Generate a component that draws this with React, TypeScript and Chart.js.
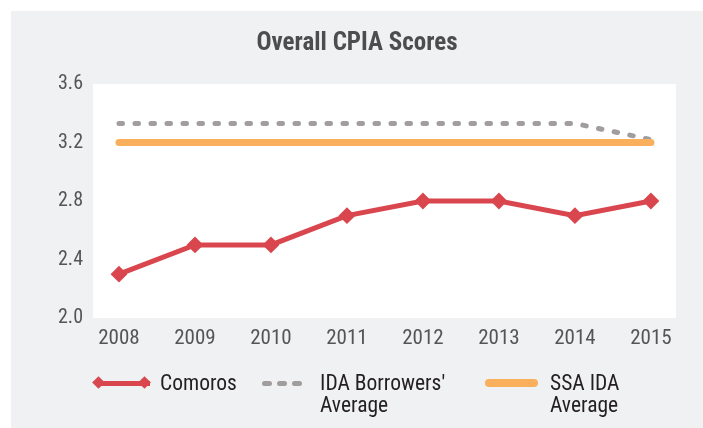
import React, { useEffect, useRef } from "react";
import { Chart, registerables } from "chart.js";

Chart.register(...registerables);

const title = "Overall CPIA Scores";
const years = [2008, 2009, 2010, 2011, 2012, 2013, 2014, 2015];
const comoros = [2.3, 2.5, 2.5, 2.7, 2.8, 2.8, 2.7, 2.8];
const idaBorrowersAverage = [3.33, 3.33, 3.33, 3.33, 3.33, 3.33, 3.33, 3.22];
const ssaIdaAverage = [3.2, 3.2, 3.2, 3.2, 3.2, 3.2, 3.2, 3.2];
const yTicks = [2.0, 2.4, 2.8, 3.2, 3.6];
const seriesNames = ["Comoros", "IDA Borrowers' Average", "SSA IDA Average"];

const RED = "#d9464e";
const GRAY = "#a09d9c";
const ORANGE = "#f9af5c";
const PANEL = "#f0f1f3";
const FONT = "Roboto, sans-serif";

const toPoints = (vals: number[]) => years.map((x, i) => ({ x, y: vals[i] }));

const plotBackground = {
  id: "plotBackground",
  beforeDraw(chart: any) {
    const { ctx, chartArea } = chart;
    ctx.save();
    ctx.fillStyle = "#ffffff";
    ctx.fillRect(chartArea.left, chartArea.top, chartArea.right - chartArea.left, chartArea.bottom - chartArea.top);
    ctx.restore();
  },
};

export default function App() {
  const canvasRef = useRef<HTMLCanvasElement | null>(null);

  useEffect(() => {
    if (!canvasRef.current) return;
    const chart = new Chart(canvasRef.current, {
      type: "line",
      data: {
        datasets: [
          {
            label: seriesNames[0],
            data: toPoints(comoros),
            borderColor: RED,
            backgroundColor: RED,
            borderWidth: 5,
            pointStyle: "rectRot",
            pointRadius: 7,
            pointBorderWidth: 2,
            pointBorderColor: RED,
            pointBackgroundColor: RED,
            order: 0,
          },
          {
            label: seriesNames[1],
            data: toPoints(idaBorrowersAverage),
            borderColor: GRAY,
            borderWidth: 5,
            borderDash: [3.5, 12.5],
            borderCapStyle: "round",
            pointRadius: 0,
            order: 2,
          },
          {
            label: seriesNames[2],
            data: toPoints(ssaIdaAverage),
            borderColor: ORANGE,
            borderWidth: 7,
            borderCapStyle: "round",
            pointRadius: 0,
            order: 1,
          },
        ],
      },
      options: {
        responsive: false,
        animation: false,
        layout: { padding: 0 },
        plugins: {
          legend: { display: false },
          tooltip: { enabled: false },
          title: {
            display: true,
            text: title,
            color: "#4d4d4f",
            font: { family: FONT, size: 25, weight: "bold condensed" },
            padding: { top: 18, bottom: 25 },
          },
        },
        scales: {
          x: {
            type: "linear",
            min: 2007.658,
            max: 2015.33,
            grid: { display: false, drawTicks: false },
            border: { display: false },
            afterBuildTicks: (scale: any) => {
              scale.ticks = years.map((v) => ({ value: v }));
            },
            afterFit: (scale: any) => {
              scale.height = 110;
            },
            ticks: {
              padding: 8,
              color: "#555557",
              font: { family: FONT, size: 21, weight: "condensed" },
              callback: (v: any) => String(v),
              maxRotation: 0,
              autoSkip: false,
            },
          },
          y: {
            min: 2.0,
            max: 3.6,
            grid: { display: false, drawTicks: false },
            border: { display: false },
            afterBuildTicks: (scale: any) => {
              scale.ticks = yTicks.map((v) => ({ value: v }));
            },
            afterFit: (scale: any) => {
              scale.width = 82;
            },
            ticks: {
              padding: 10,
              color: "#555557",
              font: { family: FONT, size: 20, weight: "condensed" },
              callback: (v: any) => Number(v).toFixed(1),
            },
          },
          yRight: {
            position: "right",
            min: 2.0,
            max: 3.6,
            grid: { display: false, drawTicks: false },
            border: { display: false },
            ticks: { display: false },
            afterFit: (scale: any) => {
              scale.width = 27;
            },
          },
        },
      },
      plugins: [plotBackground],
    } as any);
    return () => chart.destroy();
  }, []);

  const textStyle: React.CSSProperties = {
    position: "absolute",
    fontFamily: FONT,
    fontStretch: "condensed",
    fontSize: 21.5,
    lineHeight: "22px",
    color: "#231f20",
    whiteSpace: "nowrap",
  };

  const diamond = (left: number): React.CSSProperties => ({
    position: "absolute",
    left,
    top: 367,
    width: 9,
    height: 9,
    background: RED,
    transform: "rotate(45deg)",
  });

  return (
    <div
      style={{
        position: "absolute",
        left: 11,
        top: 11,
        width: 692,
        height: 417,
        background: PANEL,
        overflow: "hidden",
      }}
    >
      <canvas ref={canvasRef} width={692} height={417} style={{ display: "block", width: 692, height: 417 }} />
      <div style={{ position: "absolute", left: 87, top: 369.5, width: 52, height: 5, background: RED }} />
      <div style={diamond(82.5)} />
      <div style={diamond(128.5)} />
      <div style={{ ...textStyle, left: 149, top: 361 }}>{seriesNames[0]}</div>

      {[251, 266, 281].map((l) => (
        <div
          key={l}
          style={{ position: "absolute", left: l, top: 369.5, width: 10, height: 5, borderRadius: 2.5, background: GRAY }}
        />
      ))}
      <div style={{ ...textStyle, left: 309, top: 361 }}>
        IDA Borrowers'
        <br />
        Average
      </div>

      <div
        style={{ position: "absolute", left: 474, top: 368, width: 53, height: 8, borderRadius: 4, background: ORANGE }}
      />
      <div style={{ ...textStyle, left: 539, top: 361 }}>
        SSA IDA
        <br />
        Average
      </div>
    </div>
  );
}
